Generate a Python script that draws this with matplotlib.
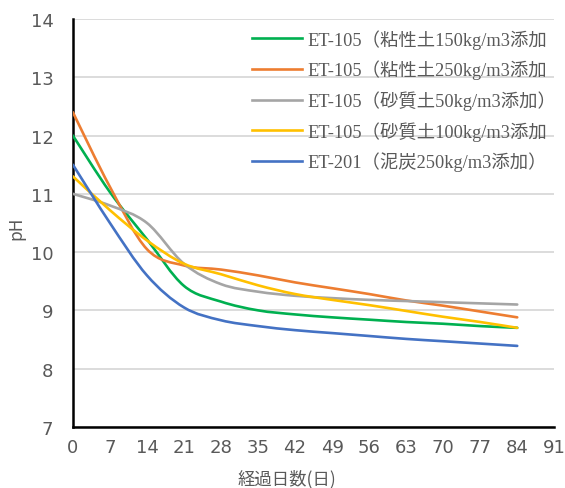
import matplotlib
matplotlib.use("Agg")
import matplotlib.pyplot as plt
from matplotlib.path import Path
from matplotlib.patches import PathPatch
from matplotlib.lines import Line2D
import numpy as np

# Data
days = [0, 7, 14, 21, 28, 35, 42, 49, 56, 63, 70, 77, 84]

ph_clay150 = [12.0, 11.03, 10.22, 9.42, 9.15, 9.0, 8.93, 8.88, 8.84, 8.8, 8.77, 8.73, 8.7]
ph_clay250 = [12.4, 11.12, 10.05, 9.77, 9.7, 9.6, 9.48, 9.38, 9.28, 9.17, 9.08, 8.98, 8.88]
ph_sand50 = [11.0, 10.8, 10.5, 9.8, 9.45, 9.32, 9.25, 9.21, 9.18, 9.16, 9.14, 9.12, 9.1]
ph_sand100 = [11.3, 10.72, 10.2, 9.8, 9.62, 9.43, 9.28, 9.18, 9.09, 8.99, 8.89, 8.8, 8.7]
ph_peat250 = [11.5, 10.5, 9.6, 9.05, 8.83, 8.73, 8.66, 8.61, 8.56, 8.51, 8.47, 8.43, 8.39]

# legend texts as far as they are visible in the reference
labels = ['ET-105（粘性土150kg/m3添加',
          'ET-105（粘性土250kg/m3添加',
          'ET-105（砂質土50kg/m3添加）',
          'ET-105（砂質土100kg/m3添加',
          'ET-201（泥炭250kg/m3添加）']
colors = ['#00B050', '#ED7D31', '#A5A5A5', '#FFC000', '#4472C4']
series = [ph_clay150, ph_clay250, ph_sand50, ph_sand100, ph_peat250]

x_ticks = list(range(0, 92, 7))
y_ticks = list(range(7, 15))


def smooth_path(x, y):
    # Excel style smoothed line: cubic bezier through every point
    pts = np.column_stack([x, y]).astype(float)
    n = len(pts)
    verts = [pts[0]]
    codes = [Path.MOVETO]
    for i in range(n - 1):
        p0 = pts[i - 1] if i > 0 else pts[i]
        p1 = pts[i]
        p2 = pts[i + 1]
        p3 = pts[i + 2] if i + 2 < n else pts[i + 1]
        c1 = p1 + (p2 - p0) / 6.0
        c2 = p2 - (p3 - p1) / 6.0
        verts += [c1, c2, p2]
        codes += [Path.CURVE4] * 3
    return Path(verts, codes)


fig = plt.figure(figsize=(5.65, 4.89), dpi=100)
ax = fig.add_axes([0.129, 0.125, 0.852, 0.834])

handles = []
for vals, c, lab in zip(series, colors, labels):
    patch = PathPatch(smooth_path(days, vals), facecolor='none', edgecolor=c,
                      linewidth=1.9, capstyle='round', joinstyle='round', zorder=3)
    ax.add_patch(patch)
    handles.append(Line2D([], [], color=c, linewidth=1.9, label=lab))

ax.set_xlim(0, 91)
ax.set_ylim(7, 14)
ax.set_xticks(x_ticks)
ax.set_yticks(y_ticks)
ax.grid(axis='y', color='#D9D9D9', linewidth=1.3)
ax.set_axisbelow(True)

for s in ['top', 'right']:
    ax.spines[s].set_visible(False)
for s in ['left', 'bottom']:
    ax.spines[s].set_color('black')
    ax.spines[s].set_linewidth(1.8)

tick_font = ['Liberation Sans Narrow', 'DejaVu Sans']
ax.tick_params(length=0, pad=8, colors='#595959', labelsize=13)
for t in ax.get_xticklabels() + ax.get_yticklabels():
    t.set_family(tick_font)
    t.set_color('#595959')
ax.tick_params(axis='y', pad=14)

ax.set_ylabel('pH', family=['Noto Sans CJK JP'], fontsize=12.5, color='#595959')
ax.yaxis.set_label_coords(-0.098, 0.49)
ax.set_xlabel('経過日数(日)', family=['Noto Sans CJK JP'], fontsize=12.5, color='#595959')
ax.xaxis.set_label_coords(0.445, -0.103)

leg = fig.legend(handles=handles, loc='upper left', bbox_to_anchor=(252 / 565, 1 - 30 / 489),
                 bbox_transform=fig.transFigure, frameon=False, handlelength=2.75,
                 handletextpad=0.3, labelspacing=0.6, borderpad=0, borderaxespad=0,
                 prop={'family': ['Liberation Serif', 'Noto Sans CJK JP'], 'size': 13.2})
for t in leg.get_texts():
    t.set_color('#595959')

fig.savefig('out.png', dpi=100)
